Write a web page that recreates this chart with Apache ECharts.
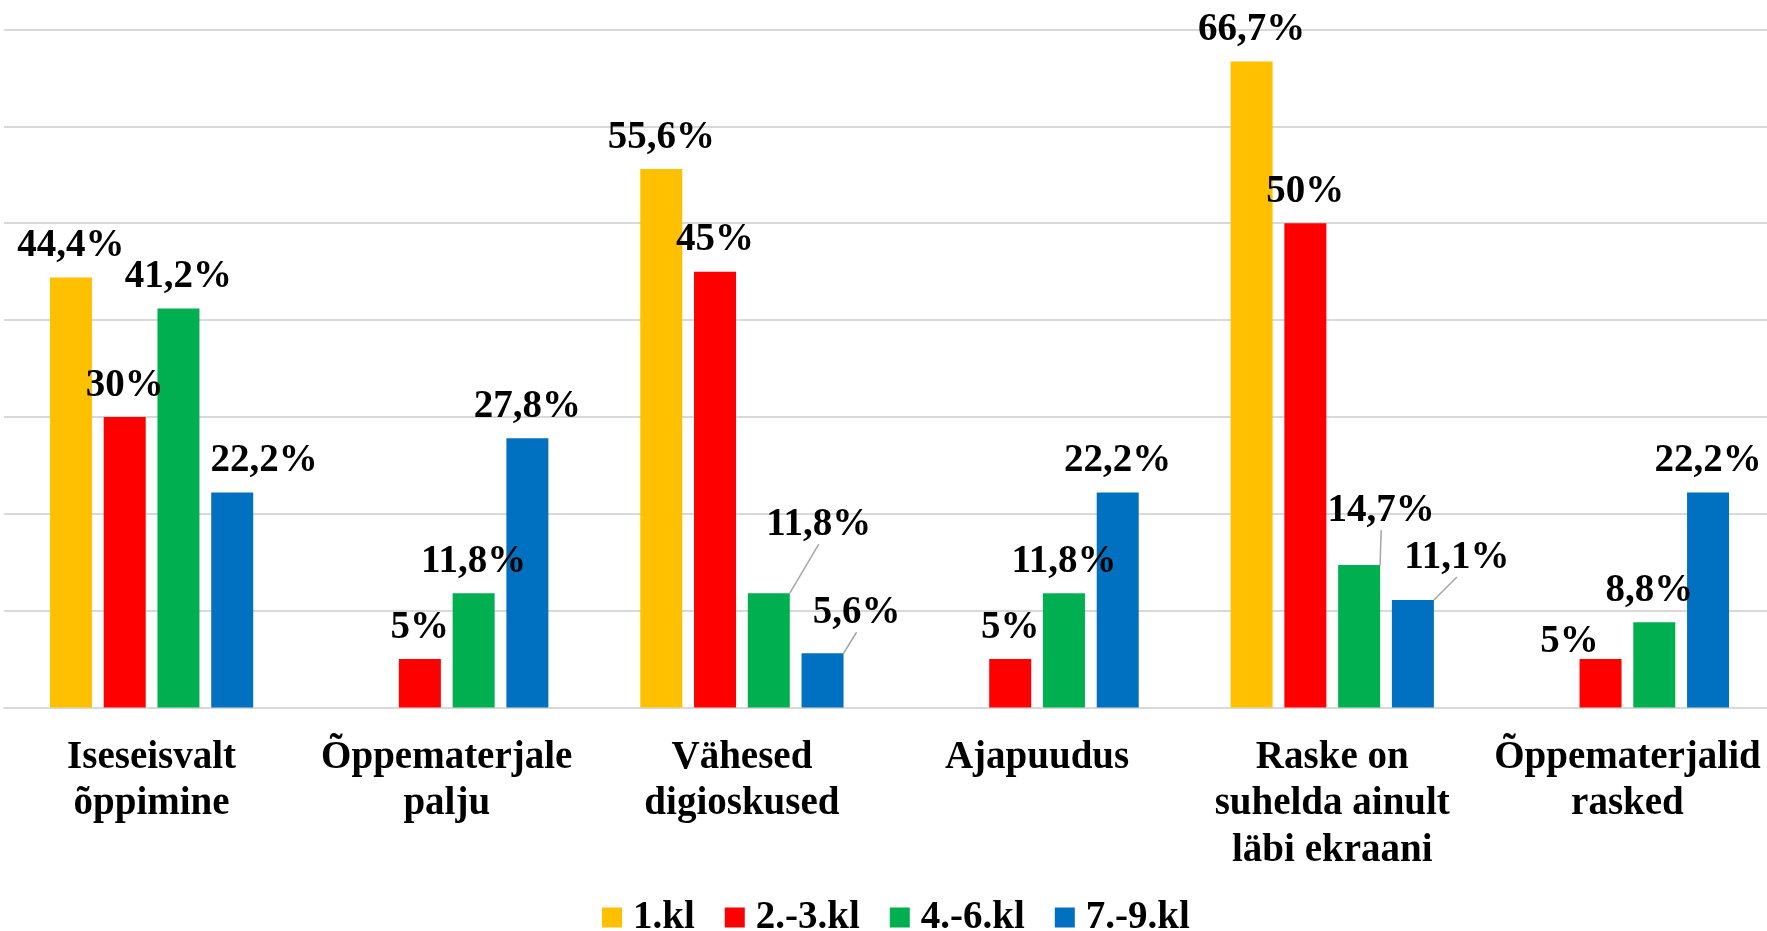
<!DOCTYPE html>
<html>
<head>
<meta charset="utf-8">
<script src="https://cdn.jsdelivr.net/npm/echarts@6/dist/echarts.min.js"></script>
<style>
html,body{margin:0;padding:0;background:#fff;}
#chart{width:1767px;height:931px;}
</style>
</head>
<body>
<div id="chart"></div>
<script>
const categories = [
  "Iseseisvalt\nõppimine",
  "Õppematerjale\npalju",
  "Vähesed\ndigioskused",
  "Ajapuudus",
  "Raske on\nsuhelda ainult\nläbi ekraani",
  "Õppematerjalid\nrasked"
];
const seriesNames = ["1.kl", "2.-3.kl", "4.-6.kl", "7.-9.kl"];
const kl1 = [44.4, null, 55.6, null, 66.7, null];
const kl2_3 = [30, 5, 45, 5, 50, 5];
const kl4_6 = [41.2, 11.8, 11.8, 11.8, 14.7, 8.8];
const kl7_9 = [22.2, 27.8, 5.6, 22.2, 11.1, 22.2];

const colors = ["#FFC000", "#FF0000", "#00B050", "#0070C0"];
const values = [kl1, kl2_3, kl4_6, kl7_9];

// manual label displacements (series index, category index) -> [dx, dy, leader line]
const labelMoves = {
  "3-0": [32, 0, false],
  "2-2": [50, -37, true],
  "3-2": [34, -9, true],
  "2-4": [22, -23, true],
  "3-4": [44, -11, true],
  "1-5": [-31, 14, false],
  "2-5": [-5, 0, false]
};

const FONT = "'Liberation Serif','Times New Roman',serif";

function fmt(v) {
  return String(v).replace('.', ',') + '%';
}

const series = values.map((arr, si) => ({
  name: seriesNames[si],
  type: 'bar',
  barWidth: 42,
  barGap: '28%',
  itemStyle: { color: colors[si] },
  data: arr.map((v, ci) => {
    const mv = labelMoves[si + '-' + ci];
    return {
      value: v,
      labelLine: { show: !!(mv && mv[2]) }
    };
  }),
  label: {
    show: true,
    position: 'top',
    distance: 12,
    color: '#000',
    fontFamily: FONT,
    fontWeight: 'bold',
    fontSize: 39,
    formatter: p => (p.value == null ? '' : fmt(p.value))
  },
  labelLine: {
    lineStyle: { color: '#A6A6A6', width: 1.5 }
  },
  labelLayout: function (params) {
    const mv = labelMoves[params.seriesIndex + '-' + params.dataIndex];
    if (!mv) return {};
    return { dx: mv[0], dy: mv[1] };
  }
}));

const chart = echarts.init(document.getElementById('chart'), null, { renderer: 'canvas' });
chart.setOption({
  animation: false,
  backgroundColor: '#fff',
  grid: {
    left: 4,
    right: -8,
    top: 29.5,
    bottom: 223.5,
    containLabel: false,
    outerBoundsMode: 'none'
  },
  legend: {
    data: seriesNames,
    left: 597,
    top: 893,
    icon: 'rect',
    itemWidth: 20,
    itemHeight: 20,
    itemGap: 30,
    selectedMode: false,
    textStyle: {
      fontFamily: FONT,
      fontWeight: 'bold',
      fontSize: 39,
      color: '#000',
      padding: [0, 0, 0, 6]
    }
  },
  xAxis: {
    type: 'category',
    data: categories,
    axisLine: { show: true, lineStyle: { color: '#D9D9D9', width: 2 } },
    axisTick: { show: false },
    axisLabel: {
      interval: 0,
      margin: 27,
      color: '#000',
      fontFamily: FONT,
      fontWeight: 'bold',
      fontSize: 39,
      lineHeight: 46.5
    }
  },
  yAxis: {
    type: 'value',
    min: 0,
    max: 70,
    interval: 10,
    axisLabel: { show: false },
    axisLine: { show: false },
    axisTick: { show: false },
    splitLine: { lineStyle: { color: '#D9D9D9', width: 2 } }
  },
  series: series
});
</script>
</body>
</html>
